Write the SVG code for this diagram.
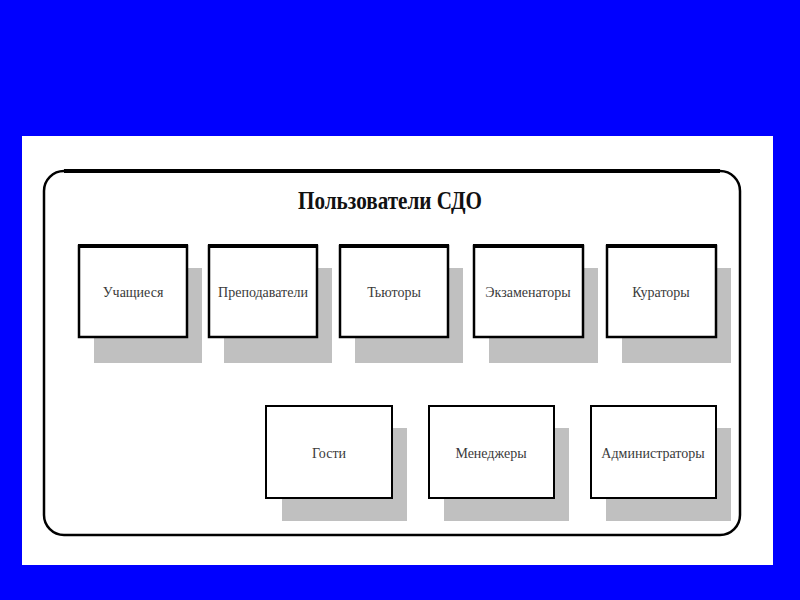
<svg xmlns="http://www.w3.org/2000/svg" width="800" height="600" viewBox="0 0 800 600">
<style>
.sh{fill:#c0c0c0}
.bx{fill:#fff;stroke:#000;stroke-width:2.5}
.b2{stroke-width:2}
.tp{stroke:#000;stroke-width:4}
.lb{font-family:"Liberation Serif","DejaVu Serif",serif;font-size:14px;fill:#3a3a3a;text-anchor:middle}
.tt{font-family:"Liberation Serif","DejaVu Serif",serif;font-size:26px;font-weight:bold;fill:#111;text-anchor:middle}
</style>
<rect x="0" y="0" width="800" height="600" fill="#0000ff"/>
<rect x="22" y="136" width="751" height="429" fill="#fff"/>
<g id="container">
<rect x="44" y="171" width="696" height="364" rx="20" fill="none" stroke="#000" stroke-width="2.5"/>
<path d="M64 171 H720" stroke="#000" stroke-width="4" fill="none"/>
<text class="tt" x="390" y="209" textLength="184" lengthAdjust="spacingAndGlyphs">Пользователи СДО</text>
</g>
<g id="n1"><rect class="sh" x="94" y="268" width="108" height="95"/><rect class="bx" x="79" y="246" width="108" height="91"/><line class="tp" x1="78" y1="246" x2="188" y2="246"/><text class="lb" x="133" y="297">Учащиеся</text></g>
<g id="n2"><rect class="sh" x="224" y="268" width="108" height="95"/><rect class="bx" x="209" y="246" width="108" height="91"/><line class="tp" x1="208" y1="246" x2="318" y2="246"/><text class="lb" x="263" y="297">Преподаватели</text></g>
<g id="n3"><rect class="sh" x="355" y="268" width="108" height="95"/><rect class="bx" x="340" y="246" width="108" height="91"/><line class="tp" x1="339" y1="246" x2="449" y2="246"/><text class="lb" x="394" y="297">Тьюторы</text></g>
<g id="n4"><rect class="sh" x="489" y="268" width="109" height="95"/><rect class="bx" x="474" y="246" width="109" height="91"/><line class="tp" x1="473" y1="246" x2="584" y2="246"/><text class="lb" x="528" y="297">Экзаменаторы</text></g>
<g id="n5"><rect class="sh" x="622" y="268" width="109" height="95"/><rect class="bx" x="607" y="246" width="109" height="91"/><line class="tp" x1="606" y1="246" x2="717" y2="246"/><text class="lb" x="661" y="297">Кураторы</text></g>
<g id="n6"><rect class="sh" x="282" y="428" width="125" height="93"/><rect class="bx b2" x="266" y="406" width="126" height="92"/><text class="lb" x="329" y="458">Гости</text></g>
<g id="n7"><rect class="sh" x="444" y="428" width="125" height="93"/><rect class="bx b2" x="429" y="406" width="125" height="92"/><text class="lb" x="491" y="458">Менеджеры</text></g>
<g id="n8"><rect class="sh" x="606" y="428" width="125" height="93"/><rect class="bx b2" x="591" y="406" width="125" height="92"/><text class="lb" x="653" y="458">Администраторы</text></g>
<g id="connectors"/>
</svg>
